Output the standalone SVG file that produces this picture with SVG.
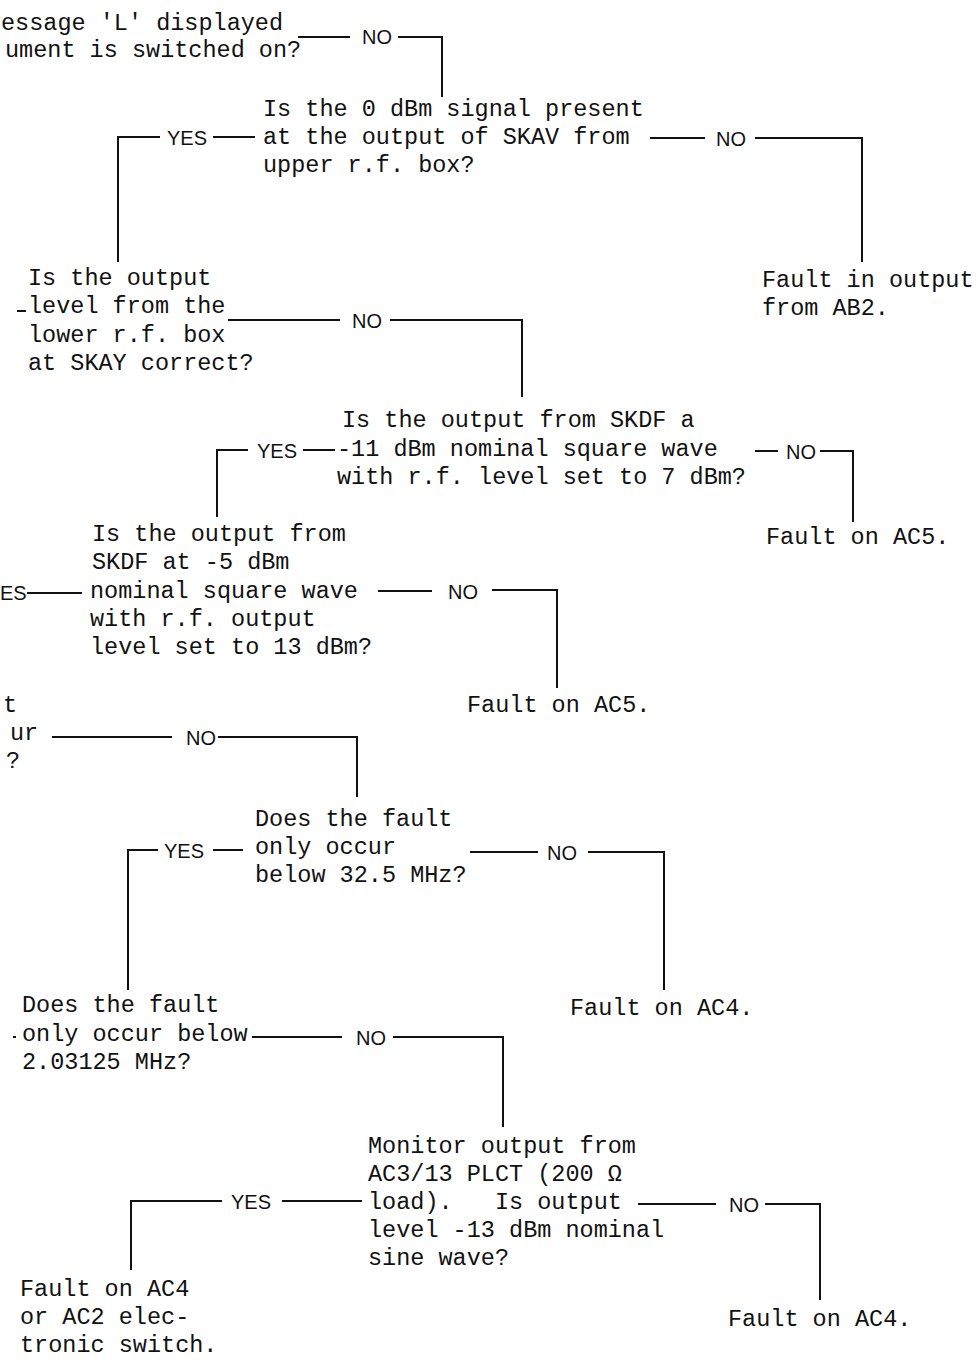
<svg xmlns="http://www.w3.org/2000/svg" width="977" height="1360" viewBox="0 0 977 1360">
<style>
.t{font-family:"Liberation Mono","DejaVu Sans Mono",monospace;font-size:23.5px;fill:#111}
.yn{font-family:"Liberation Sans","DejaVu Sans",sans-serif;font-size:20px;fill:#111}
.ln{fill:none;stroke:#111;stroke-width:2}
</style>
<rect width="977" height="1360" fill="#fff"/>
<g id="connectors" class="ln">
<path d="M298 37H350M398 37H442V97"/>
<path d="M255 137H213M160 137H118V262"/>
<path d="M650 138H705M755 138H862V262"/>
<path d="M17 311H26"/>
<path d="M228 320H340M390 320H522V397"/>
<path d="M335 450H303M248 450H217V517"/>
<path d="M755 451H778M820 451H853V522"/>
<path d="M27 593H82"/>
<path d="M378 591H432M492 590H557V688"/>
<path d="M52 737H172M218 737H357V797"/>
<path d="M243 850H213M158 850H128V990"/>
<path d="M470 852H538M588 852H664V990"/>
<path d="M13 1037H16"/>
<path d="M252 1037H342M393 1037H503V1127"/>
<path d="M362 1201H282M222 1201H131V1270"/>
<path d="M638 1204H716M765 1204H820V1300"/>
</g>
<g id="labels">
<text class="yn" x="362" y="44">NO</text>
<text class="yn" x="167" y="145">YES</text>
<text class="yn" x="716" y="146">NO</text>
<text class="yn" x="352" y="328">NO</text>
<text class="yn" x="257" y="458">YES</text>
<text class="yn" x="786" y="459">NO</text>
<text class="yn" x="0" y="600" font-size="16">ES</text>
<text class="yn" x="448" y="599">NO</text>
<text class="yn" x="186" y="745">NO</text>
<text class="yn" x="164" y="858">YES</text>
<text class="yn" x="547" y="860">NO</text>
<text class="yn" x="356" y="1045">NO</text>
<text class="yn" x="231" y="1209">YES</text>
<text class="yn" x="729" y="1212">NO</text>
</g>
<g id="q1">
<text class="t" x="1" y="30">essage 'L' displayed</text>
<text class="t" x="5" y="57">ument is switched on?</text>
</g>
<g id="q2">
<text class="t" x="263" y="116">Is the 0 dBm signal present</text>
<text class="t" x="263" y="144">at the output of SKAV from</text>
<text class="t" x="263" y="172">upper r.f. box?</text>
</g>
<g id="r1">
<text class="t" x="762" y="287">Fault in output</text>
<text class="t" x="762" y="315">from AB2.</text>
</g>
<g id="q3">
<text class="t" x="28" y="285">Is the output</text>
<text class="t" x="28" y="313">level from the</text>
<text class="t" x="28" y="342">lower r.f. box</text>
<text class="t" x="28" y="370">at SKAY correct?</text>
</g>
<g id="q4">
<text class="t" x="342" y="427">Is the output from SKDF a</text>
<text class="t" x="337" y="456">-11 dBm nominal square wave</text>
<text class="t" x="337" y="484">with r.f. level set to 7 dBm?</text>
</g>
<g id="r2">
<text class="t" x="766" y="544">Fault on AC5.</text>
</g>
<g id="q5">
<text class="t" x="92" y="541">Is the output from</text>
<text class="t" x="92" y="569">SKDF at -5 dBm</text>
<text class="t" x="90" y="598">nominal square wave</text>
<text class="t" x="90" y="626">with r.f. output</text>
<text class="t" x="90" y="654">level set to 13 dBm?</text>
</g>
<g id="r3">
<text class="t" x="467" y="712">Fault on AC5.</text>
</g>
<g id="q6">
<text class="t" x="3" y="712">t</text>
<text class="t" x="10" y="740">ur</text>
<text class="t" x="6" y="768">?</text>
</g>
<g id="q7">
<text class="t" x="255" y="826">Does the fault</text>
<text class="t" x="255" y="854">only occur</text>
<text class="t" x="255" y="882">below 32.5 MHz?</text>
</g>
<g id="r4">
<text class="t" x="570" y="1015">Fault on AC4.</text>
</g>
<g id="q8">
<text class="t" x="22" y="1012">Does the fault</text>
<text class="t" x="22" y="1041">only occur below</text>
<text class="t" x="22" y="1069">2.03125 MHz?</text>
</g>
<g id="q9">
<text class="t" x="368" y="1153">Monitor output from</text>
<text class="t" x="368" y="1181">AC3/13 PLCT (200 Ω</text>
<text class="t" x="368" y="1209" xml:space="preserve">load).   Is output</text>
<text class="t" x="368" y="1237">level -13 dBm nominal</text>
<text class="t" x="368" y="1265">sine wave?</text>
</g>
<g id="r5">
<text class="t" x="20" y="1296">Fault on AC4</text>
<text class="t" x="20" y="1324">or AC2 elec-</text>
<text class="t" x="20" y="1352">tronic switch.</text>
</g>
<g id="r6">
<text class="t" x="728" y="1326">Fault on AC4.</text>
</g>
</svg>
